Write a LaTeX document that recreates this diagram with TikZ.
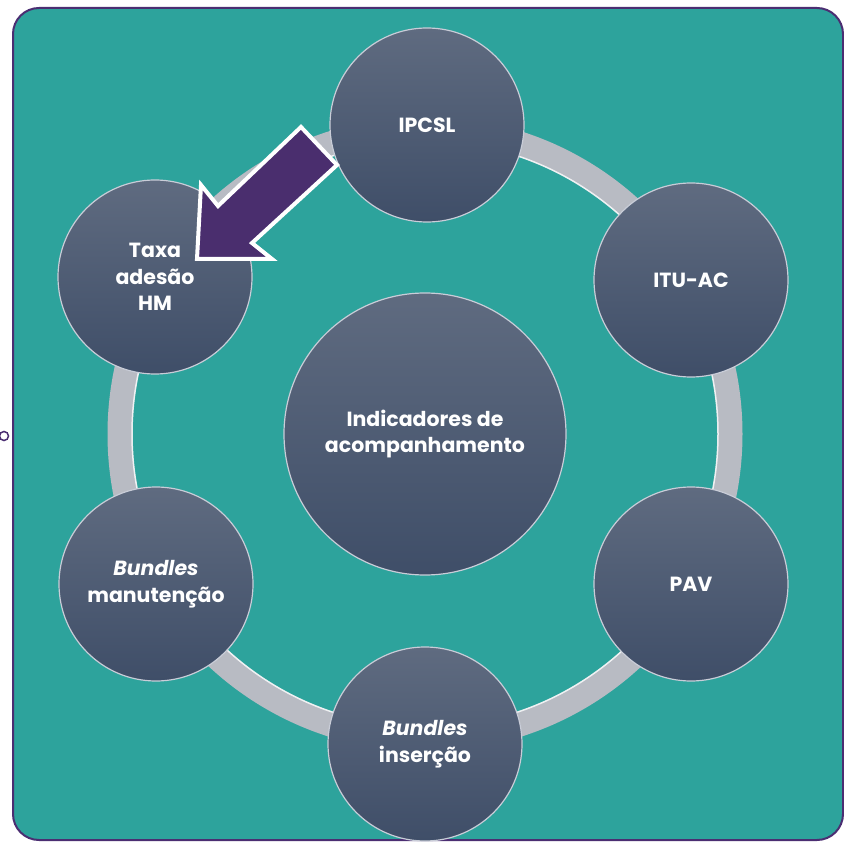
\documentclass[tikz,border=0pt]{standalone}
\usepackage{fontspec}
\setmainfont{Poppins}
\definecolor{teal}{HTML}{2DA39C}
\definecolor{frame}{HTML}{4B2E72}
\definecolor{arrowc}{HTML}{4A2E6E}
\definecolor{bubtop}{HTML}{5F6B80}
\definecolor{bubbot}{HTML}{3F4E68}
\definecolor{bubrim}{HTML}{C9CDD8}
\definecolor{ringc}{HTML}{B8BBC3}
\begin{document}
\begin{tikzpicture}[x=1pt,y=-1pt,
  bub/.style={circle, minimum size=194pt, inner sep=0pt, top color=bubtop, bottom color=bubbot,
    draw=bubrim, line width=1.2pt, text=white, align=center,
    font=\bfseries\fontsize{20.5}{26.5}\selectfont},
  bigbub/.style={bub, minimum size=282pt}]
\useasboundingbox (0,0) rectangle (844,842);
% frame
\draw[frame, line width=2pt, fill=teal, rounded corners=26pt] (13,8) rectangle (843,840);
\draw[frame, line width=1.5pt, fill=white] (4,436) circle (4.5);
% ring
\coordinate (c) at (425,434);
\draw[ringc, line width=25pt] (c) circle (305);
\draw[white, line width=1.5pt, opacity=0.8] (c) circle (293);
% bubbles
\node[bigbub] (center) at (425,434) {Indicadores de\\acompanhamento};
\node[bub] (ipcsl) at (427,125) {IPCSL};
\node[bub] (itu) at (691,280) {ITU-AC};
\node[bub] (pav) at (691,584) {PAV};
\node[bub] (ins) at (425,744) {\textit{Bundles}\\inserção};
\node[bub] (man) at (156,584) {\textit{Bundles}\\manutenção};
\node[bub] (taxa) at (155,277) {Taxa\\adesão\\HM};
% arrow
\draw[white, line width=4pt, fill=arrowc, miter limit=10]
  (301,127) -- (337,165) -- (252,243) -- (272,259) -- (197,259) -- (201,185) -- (218,206) -- cycle;
\end{tikzpicture}
\end{document}
